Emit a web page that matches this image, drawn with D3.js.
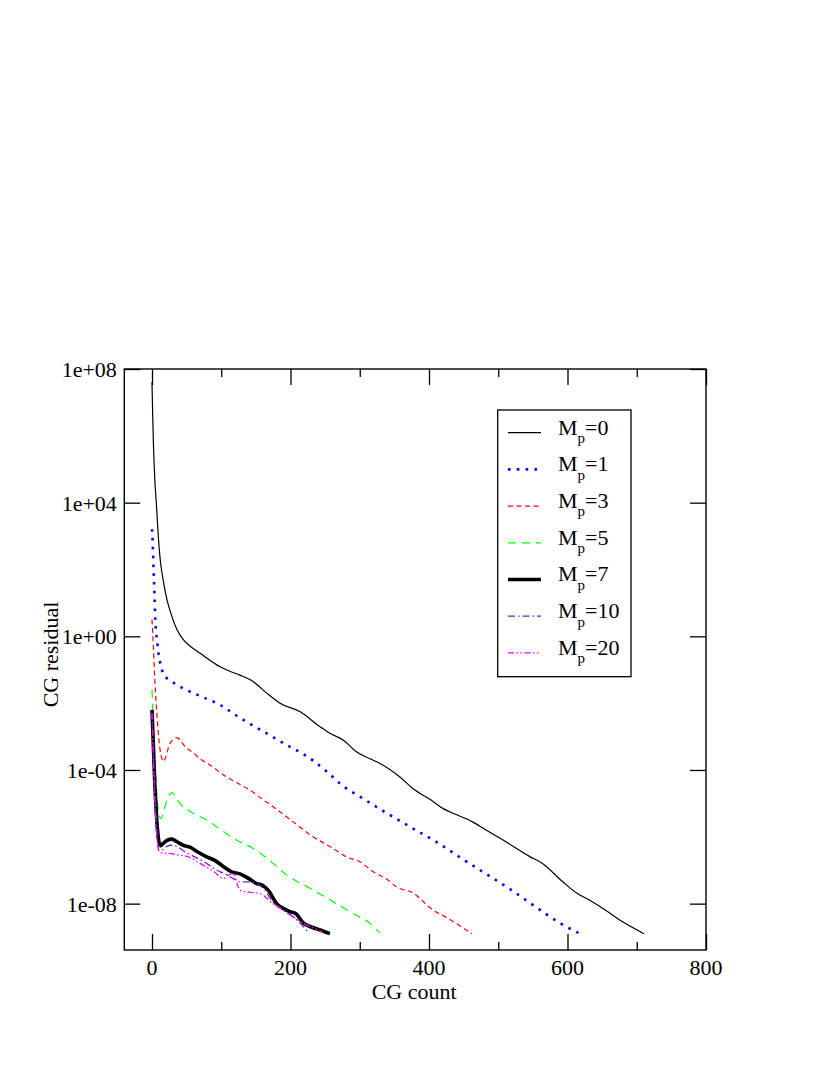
<!DOCTYPE html>
<html>
<head>
<meta charset="utf-8">
<script src="https://cdn.jsdelivr.net/npm/d3@7"></script>
<style>
  body { margin: 0; background: #fff; }
  svg { display: block; }
  text { font-family: "Liberation Serif", "Times New Roman", serif; fill: #000; }
</style>
</head>
<body>
<svg id="chart" width="830" height="1075"></svg>
<script>
// ---- data ----
const xTicksMajor = [0, 200, 400, 600, 800];
const xTicksMinor = [100, 300, 500, 700];
const yTickValues = [1e8, 1e4, 1e0, 1e-4, 1e-8];
const yTickLabels = ["1e+08", "1e+04", "1e+00", "1e-04", "1e-08"];
const xLabel = "CG count";
const yLabel = "CG residual";
const seriesNames = ["0", "1", "3", "5", "7", "10", "20"];

const mp0_x = [0,1,2.3,4,6.2,8.5,10.5,13,16,21.6,28.8,36,45.5,57,69.5,84,98.3,113,127,146.3,165.6,184.8,213.5,242.3,256.7,275.9,295.2,314,328.7,357.5,376.7,403,419.9,441,463,482.3,511,545,563.9,592.7,614.3,631,655,679,710.3];
const mp0_y = [4e7,4e6,4e5,5e4,1e4,1.6e3,4e2,125,50,12.6,3.9,1.6,0.78,0.47,0.31,0.19,0.123,0.089,0.069,0.044,0.020,0.010,5.6e-3,2.0e-3,1.26e-3,7.9e-4,3.5e-4,2.2e-4,1.6e-4,6.3e-5,2.8e-5,1.26e-5,7.1e-6,4.5e-6,2.8e-6,1.6e-6,7.1e-7,2.6e-7,1.6e-7,4.6e-8,2.0e-8,1.3e-8,6.3e-9,2.9e-9,1.26e-9];

const mp1_x = [0,1,2.3,3.5,4.8,6,7.2,9,11,14.4,21.6,32,45.5,72,98.3,122.4,146.3,170.3,194.4,220.7,232.7,254.3,275.9,300,335.8,374.4,410.4,446.4,482.3,518.4,554.4,588,618];
const mp1_y = [1.6e3,630,100,20,3.1,1.26,0.78,0.35,0.195,0.098,0.055,0.040,0.0275,0.0155,8.9e-3,4.2e-3,2.1e-3,1.1e-3,5.6e-4,2.8e-4,1.9e-4,8.3e-5,3.3e-5,1.6e-5,5.6e-6,1.9e-6,7.1e-7,2.3e-7,7.8e-8,2.6e-8,7.9e-9,2.7e-9,1.26e-9];

const mp3_x = [0,2,4,6,8,10,13,16.7,20,25,31,36,42,50,57.6,72,84,105.5,122,141.5,158,175,203.9,232.7,261.5,280.8,300,319,340.7,352.8,376.7,405.5,424.8,440,462];
const mp3_y = [3.2,0.5,0.05,0.01,2.5e-3,7.9e-4,2.8e-4,1.8e-4,2.5e-4,5.6e-4,8.3e-4,9.3e-4,7.1e-4,4.5e-4,3.5e-4,2.0e-4,1.4e-4,6.6e-5,4.2e-5,2.5e-5,1.4e-5,7.9e-6,2.8e-6,1.0e-6,4.5e-7,2.5e-7,1.8e-7,9.1e-8,5.1e-8,3.2e-8,2.1e-8,6.5e-9,3.9e-9,2.5e-9,1.26e-9];

const mp5_x = [0,2,4,6,8,10,13,16,20,25,29,34,40,45.5,60,79,100,122.4,146.3,175,194.4,228,256.8,290.3,314.3,328.7];
const mp5_y = [0.025,2.5e-3,2.5e-4,4.0e-5,1.0e-5,4.5e-6,3.5e-6,5.0e-6,1.0e-5,1.8e-5,2.1e-5,1.6e-5,1.0e-5,7.9e-6,5.0e-6,3.2e-6,1.6e-6,7.9e-7,4.5e-7,1.6e-7,7.2e-8,2.9e-8,1.3e-8,5.1e-9,2.6e-9,1.35e-9];

const mp7_x = [0,2,4,6,8,10,12,16,22,28.8,36,45,55,66,79,90,103,115,127,140,151,160,168,180,190,199,208,218,230,244,256.8];
const mp7_y = [6.3e-3,5.0e-4,4.0e-5,6.3e-6,1.6e-6,7.1e-7,5.4e-7,6.3e-7,7.9e-7,8.5e-7,7.1e-7,5.6e-7,4.9e-7,3.5e-7,2.5e-7,2.0e-7,1.3e-7,8.9e-8,7.8e-8,5.6e-8,4.0e-8,3.5e-8,2.5e-8,1.0e-8,7.1e-9,5.8e-9,5.0e-9,2.7e-9,2.0e-9,1.6e-9,1.26e-9];

const mp10_x = [0,2,4,6,8,10,14,20,26,36,48,60,75,93.6,105,117.5,127,140,151,163,175,190,204,215,225.5];
const mp10_y = [5.0e-3,3.2e-4,2.5e-5,3.2e-6,7.9e-7,4.0e-7,4.0e-7,5.0e-7,5.6e-7,5.1e-7,3.5e-7,2.6e-7,1.8e-7,1.0e-7,7.9e-8,5.6e-8,4.5e-8,4.5e-8,4.0e-8,2.5e-8,1.1e-8,6.3e-9,4.0e-9,2.5e-9,1.4e-9];

const mp20_x = [0,2,4,6,8,10,14,25,36,52.8,74.3,90,103,110,117.5,127,140,156,175,190,204,223,235,247];
const mp20_y = [5.0e-3,2.5e-4,1.6e-5,2.0e-6,6.3e-7,3.8e-7,3.3e-7,3.2e-7,2.9e-7,2.5e-7,1.4e-7,8.9e-8,5.6e-8,7.1e-8,7.9e-8,2.5e-8,2.2e-8,2.0e-8,1.0e-8,6.3e-9,4.0e-9,2.3e-9,1.8e-9,1.35e-9];

// ---- styles ----
const styles = [
  { color: "#000000", width: 1.2, dash: null },
  { color: "#0000ff", width: 2.6, dash: "2.6,6.2" },
  { color: "#ff0000", width: 1.2, dash: "5,3.5" },
  { color: "#00ff00", width: 1.2, dash: "8,6" },
  { color: "#000000", width: 3.6, dash: null },
  { color: "#7221bc", width: 1.3, dash: "7,3,1.5,3" },
  { color: "#ff00ff", width: 1.3, dash: "6,2.5,1.5,2.5,1.5,2.5" }
];
const xsAll = [mp0_x, mp1_x, mp3_x, mp5_x, mp7_x, mp10_x, mp20_x];
const ysAll = [mp0_y, mp1_y, mp3_y, mp5_y, mp7_y, mp10_y, mp20_y];

// ---- layout ----
const L = 124.3, R = 706, T = 369, B = 950;
const svg = d3.select("#chart");

const x = d3.scaleLinear().domain([-40, 800]).range([L, R]);
const y = d3.scaleLog().domain([4.1e-10, 1e8]).range([B, T]);

const clip = svg.append("defs").append("clipPath").attr("id", "clip")
  .append("rect").attr("x", L).attr("y", T).attr("width", R - L).attr("height", B - T);

// curves
const line = d3.line().x(d => x(d[0])).y(d => y(d[1])).curve(d3.curveMonotoneX);
const g = svg.append("g").attr("clip-path", "url(#clip)");
xsAll.forEach((xs, i) => {
  const pts = xs.map((v, j) => [v, ysAll[i][j]]);
  const p = g.append("path").datum(pts)
    .attr("d", line)
    .attr("fill", "none")
    .attr("stroke", styles[i].color)
    .attr("stroke-width", styles[i].width)
    .attr("stroke-linejoin", "round");
  if (styles[i].dash) p.attr("stroke-dasharray", styles[i].dash);
});

// frame
svg.append("rect").attr("x", L).attr("y", T).attr("width", R - L).attr("height", B - T)
  .attr("fill", "none").attr("stroke", "#000").attr("stroke-width", 1.4);

// axes with ticks (inward)
const majorLen = 16, minorLen = 8;
function tickAxis(axisGen, transform) {
  const a = svg.append("g").attr("transform", transform).call(axisGen);
  a.select(".domain").remove();
  a.selectAll("line").attr("stroke", "#000").attr("stroke-width", 1.3);
  return a;
}
// bottom major
const xb = tickAxis(d3.axisTop(x).tickValues(xTicksMajor).tickSize(majorLen).tickFormat(""), `translate(0,${B})`);
tickAxis(d3.axisTop(x).tickValues(xTicksMinor).tickSize(minorLen).tickFormat(""), `translate(0,${B})`);
// top
tickAxis(d3.axisBottom(x).tickValues(xTicksMajor).tickSize(majorLen).tickFormat(""), `translate(0,${T})`);
tickAxis(d3.axisBottom(x).tickValues(xTicksMinor).tickSize(minorLen).tickFormat(""), `translate(0,${T})`);
// left / right
tickAxis(d3.axisRight(y).tickValues(yTickValues).tickSize(majorLen).tickFormat(""), `translate(${L},0)`);
tickAxis(d3.axisLeft(y).tickValues(yTickValues).tickSize(majorLen).tickFormat(""), `translate(${R},0)`);

// tick labels
svg.append("g").selectAll("text").data(xTicksMajor).join("text")
  .attr("x", d => x(d)).attr("y", B + 25)
  .attr("text-anchor", "middle").attr("font-size", 22)
  .text(d => d);
svg.append("g").selectAll("text").data(yTickValues).join("text")
  .attr("x", L - 7.5).attr("y", d => y(d) + 8)
  .attr("text-anchor", "end").attr("font-size", 22)
  .text((d, i) => yTickLabels[i]);

// axis labels
svg.append("text").attr("x", (L + R) / 2 - 1).attr("y", 999)
  .attr("text-anchor", "middle").attr("font-size", 22).text(xLabel);
svg.append("text").attr("transform", `translate(57.5,${(T + B) / 2 - 5}) rotate(-90)`)
  .attr("text-anchor", "middle").attr("font-size", 22).text(yLabel);

// legend
const lg = svg.append("g");
lg.append("rect").attr("x", 497.7).attr("y", 410).attr("width", 133.3).attr("height", 266.7)
  .attr("fill", "#fff").attr("stroke", "#000").attr("stroke-width", 1.3);
seriesNames.forEach((name, i) => {
  const ly = 432.7 + i * 36.7;
  const s = styles[i];
  const l = lg.append("line").attr("x1", 508).attr("x2", 541).attr("y1", ly).attr("y2", ly)
    .attr("stroke", s.color).attr("stroke-width", s.width);
  if (s.dash) l.attr("stroke-dasharray", s.dash);
  const t = lg.append("text").attr("x", 558).attr("y", ly + 1.8).attr("font-size", 22);
  t.append("tspan").text("M");
  t.append("tspan").attr("font-size", 15).attr("dy", 8.5).text("p");
  t.append("tspan").attr("dy", -8.5).text("=" + name);
});
</script>
</body>
</html>
